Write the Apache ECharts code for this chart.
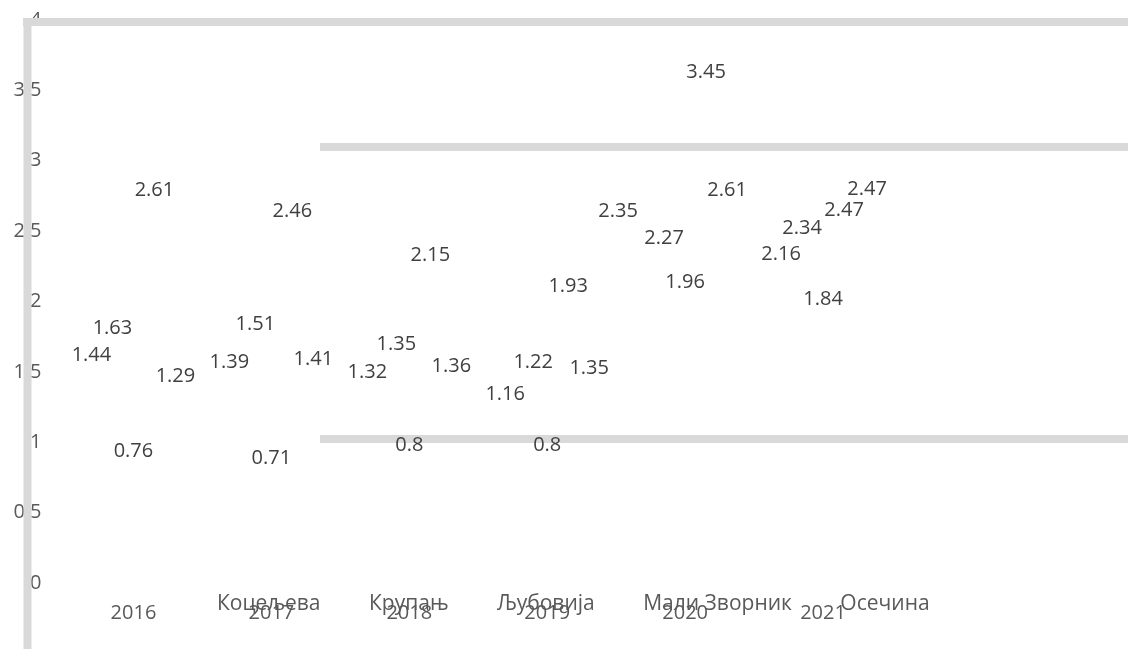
<!DOCTYPE html>
<html>
<head>
<meta charset="utf-8">
<script src="https://cdn.jsdelivr.net/npm/echarts@6/dist/echarts.min.js"></script>
<style>
html,body{margin:0;padding:0;background:#fff;}
#chart{width:1128px;height:649px;}
</style>
</head>
<body>
<div id="chart"></div>
<script>
// ---- data ----
var years = ['2016', '2017', '2018', '2019', '2020', '2021'];
var seriesNames = ['Коцељева', 'Крупањ', 'Љубовија', 'Мали Зворник', 'Осечина'];
var koceljeva   = [1.44, 1.39, 1.32, 1.16, 2.35, 2.16];
var krupanj     = [1.63, 1.51, 1.35, 1.22, 2.27, 2.34];
var ljubovija   = [0.76, 0.71, 0.80, 0.80, 1.96, 1.84];
var maliZvornik = [2.61, 2.46, 2.15, 1.93, 3.45, 2.47];
var osecina     = [1.29, 1.41, 1.36, 1.35, 2.61, 2.47];
var yTicks = { min: 0, max: 4, interval: 0.5 };

// label nudges (style only, to mimic overlap avoidance in the reference)
var labelNudges = {
  'Коцељева': { 4: [-25, -16] },
  'Крупањ':   { 1: [5, -21], 2: [8, -24], 3: [7, -24] },
  'Осечина':  { 5: [2, -21] }
};

var seriesValues = [koceljeva, krupanj, ljubovija, maliZvornik, osecina];
var FONT = 'Open Sans';

var series = seriesNames.map(function (name, si) {
  var nudges = labelNudges[name] || {};
  return {
    name: name,
    type: 'bar',
    barWidth: 21,
    barGap: '0%',
    itemStyle: { color: 'rgba(0,0,0,0)' },
    emphasis: { disabled: true },
    label: {
      show: true,
      position: 'top',
      distance: 15,
      color: '#404040',
      fontFamily: FONT,
      fontSize: 20
    },
    data: seriesValues[si].map(function (v, i) {
      if (nudges[i]) return { value: v, label: { offset: nudges[i] } };
      return v;
    })
  };
});

var chart = echarts.init(document.getElementById('chart'));
chart.setOption({
  animation: false,
  backgroundColor: '#ffffff',
  grid: { left: 64.5, right: 236, top: 20, bottom: 66 },
  legend: {
    data: seriesNames,
    left: 182,
    top: 589,
    itemWidth: 25,
    itemHeight: 14,
    itemGap: 18.5,
    textStyle: { color: '#595959', fontFamily: FONT, fontSize: 21 }
  },
  xAxis: {
    type: 'category',
    data: years,
    axisLine: { show: false },
    axisTick: { show: false },
    axisLabel: { color: '#595959', fontFamily: FONT, fontSize: 20, margin: 20 }
  },
  yAxis: {
    type: 'value',
    min: yTicks.min,
    max: yTicks.max,
    interval: yTicks.interval,
    offset: 37,
    axisLine: { show: false },
    axisTick: { show: false },
    splitLine: { show: false },
    axisLabel: { color: '#595959', fontFamily: FONT, fontSize: 20, margin: -14 }
  },
  graphic: [
    { type: 'rect', z: 1, shape: { x: 23, y: 18, width: 1105, height: 8 }, style: { fill: '#d9d9d9' } },
    { type: 'rect', z: 1, shape: { x: 320, y: 143, width: 808, height: 8 }, style: { fill: '#d9d9d9' } },
    { type: 'rect', z: 1, shape: { x: 320, y: 435, width: 808, height: 8 }, style: { fill: '#d9d9d9' } },
    { type: 'rect', z: 100, shape: { x: 23.5, y: 18, width: 8, height: 631 }, style: { fill: '#d9d9d9' } }
  ],
  series: series
});
</script>
</body>
</html>
